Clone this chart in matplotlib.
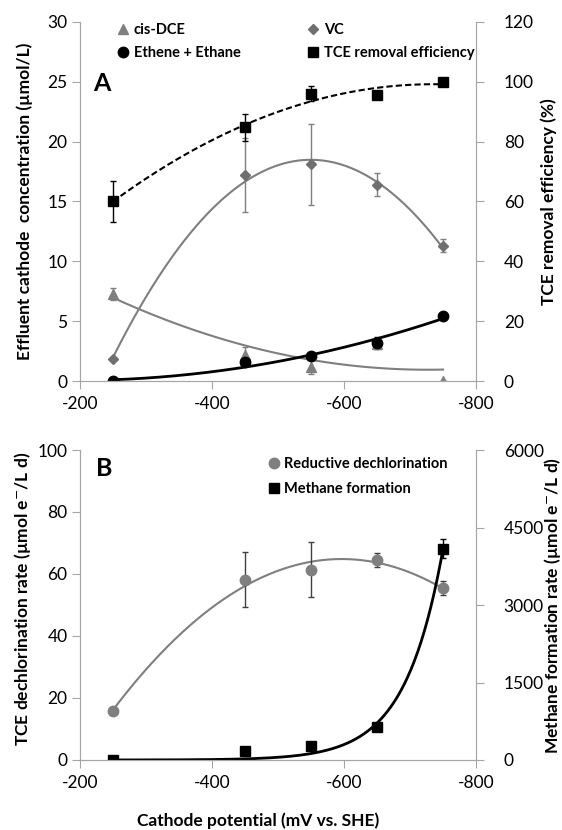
import numpy as np
import matplotlib.pyplot as plt
from matplotlib.ticker import MultipleLocator

plt.rcParams['font.family'] = ['Lato', 'DejaVu Sans']
plt.rcParams['axes.unicode_minus'] = False

potential = np.array([-250, -450, -550, -650, -750])

# panel A (umol/L, and % for removal efficiency)
cis_dce = np.array([7.25, 2.2, 1.2, 3.1, 0.0])
cis_dce_err = np.array([0.5, 0.6, 0.65, 0.0, 0.0])
vc = np.array([1.85, 17.2, 18.1, 16.4, 11.3])
vc_err = np.array([0.0, 3.1, 3.4, 0.95, 0.55])
ethene = np.array([0.0, 1.55, 2.05, 3.15, 5.45])
ethene_err = np.array([0.0, 0.1, 0.1, 0.5, 0.1])
tce_eff = np.array([60.0, 84.8, 96.0, 95.5, 100.0])
tce_eff_err = np.array([7.0, 4.6, 2.5, 1.0, 0.3])

# panel B (umol e-/L d)
dechlor = np.array([15.8, 58.2, 61.4, 64.4, 55.4])
dechlor_err = np.array([0.5, 8.8, 8.9, 2.3, 2.3])
methane = np.array([0.0, 175, 278, 647, 4090])
methane_err = np.array([0.0, 0.0, 0.0, 0.0, 180])

GRAY = '#7f7f7f'
SPINE = '#a6a6a6'
xs = np.linspace(-250, -750, 300)


def poly_trend(y, deg=2):
    return np.polyval(np.polyfit(potential, y, deg), xs)


def exp_trend(y):
    best = None
    for b in np.linspace(-0.03, -0.001, 3000):
        e = np.exp(b * potential)
        a = (y @ e) / (e @ e)
        sse = ((y - a * e) ** 2).sum()
        if best is None or sse < best[0]:
            best = (sse, a, b)
    return best[1] * np.exp(best[2] * xs)


def style(ax):
    ax.spines['top'].set_visible(False)
    for s in ['left', 'right', 'bottom']:
        ax.spines[s].set_color(SPINE)
    ax.tick_params(direction='out', length=6, color=SPINE, labelsize=12.5)
    ax.tick_params(axis='y', pad=3)
    ax.tick_params(axis='x', pad=5)


fig = plt.figure(figsize=(5.62, 8.30), dpi=100)

# ---------------- panel A
ax1 = fig.add_axes([80/562, 1 - 381/830, 396/562, 359/830])
ax2 = ax1.twinx()

ax1.plot(xs, poly_trend(cis_dce), color=GRAY, lw=1.5)
ax1.plot(xs, poly_trend(vc), color=GRAY, lw=1.5)
ax1.plot(xs, poly_trend(ethene), color='black', lw=2)
ax1.errorbar(potential, cis_dce, yerr=cis_dce_err, fmt='none', ecolor=GRAY, capsize=2.5, elinewidth=1)
ax1.errorbar(potential, vc, yerr=vc_err, fmt='none', ecolor=GRAY, capsize=2.5, elinewidth=1)
ax1.errorbar(potential, ethene, yerr=ethene_err, fmt='none', ecolor='black', capsize=2.5, elinewidth=1)
h_dce, = ax1.plot(potential, cis_dce, '^', color=GRAY, ms=7, ls='none', label='cis-DCE')
h_vc, = ax1.plot(potential, vc, 'D', color='#6f6f6f', ms=5.5, ls='none', label='VC')
h_eth, = ax1.plot(potential, ethene, 'o', color='black', ms=7.5, ls='none', label='Ethene + Ethane')

ax2.plot(xs, poly_trend(tce_eff), color='black', lw=1.5, ls=(0, (3, 1.5)))
ax2.errorbar(potential, tce_eff, yerr=tce_eff_err, fmt='none', ecolor='black', capsize=2.5, elinewidth=1)
h_tce, = ax2.plot(potential, tce_eff, 's', color='black', ms=7.5, ls='none', label='TCE removal efficiency')

ax1.set_xlim(-200, -800)
ax1.set_ylim(0, 30)
ax2.set_ylim(0, 120)
ax1.xaxis.set_major_locator(MultipleLocator(200))
ax1.yaxis.set_major_locator(MultipleLocator(5))
ax2.yaxis.set_major_locator(MultipleLocator(20))
for a in (ax1, ax2):
    style(a)
ax2.tick_params(axis='y', pad=14)

ax1.set_ylabel('Effluent cathode  concentration (µmol/L)', fontsize=12.5, fontweight='bold')
ax1.yaxis.set_label_coords(-0.119, 0.5)
ax2.set_ylabel('TCE removal efficiency (%)', fontsize=12.5, fontweight='bold')
ax2.yaxis.set_label_coords(1.162, 0.5)
ax1.text(0.033, 0.829, 'A', transform=ax1.transAxes, fontsize=18, fontweight='bold', va='center')

ax2.legend(handles=[h_dce, h_eth, h_vc, h_tce], ncol=2, loc='upper left',
           bbox_to_anchor=(0.095, 0.998), frameon=False, borderpad=0, borderaxespad=0,
           handlelength=0.8, handletextpad=0.3, columnspacing=4.6, labelspacing=0.65,
           prop={'weight': 'bold', 'size': 10.5})

# ---------------- panel B
ax3 = fig.add_axes([80/562, 1 - 760/830, 396/562, 310/830])
ax4 = ax3.twinx()

ax3.plot(xs, poly_trend(dechlor), color=GRAY, lw=1.5)
ax3.errorbar(potential, dechlor, yerr=dechlor_err, fmt='none', ecolor='#404040', capsize=2.5, elinewidth=1)
h_rd, = ax3.plot(potential, dechlor, 'o', color=GRAY, ms=7.5, ls='none', label='Reductive dechlorination')

ax4.plot(xs, exp_trend(methane), color='black', lw=2)
ax4.errorbar(potential, methane, yerr=methane_err, fmt='none', ecolor='black', capsize=2.5, elinewidth=1)
h_me, = ax4.plot(potential, methane, 's', color='black', ms=7.5, ls='none', label='Methane formation')

ax3.set_xlim(-200, -800)
ax3.set_ylim(0, 100)
ax4.set_ylim(0, 6000)
ax3.xaxis.set_major_locator(MultipleLocator(200))
ax3.yaxis.set_major_locator(MultipleLocator(20))
ax4.yaxis.set_major_locator(MultipleLocator(1500))
for a in (ax3, ax4):
    style(a)
ax4.tick_params(axis='y', pad=14)

ax3.set_ylabel('TCE dechlorination rate (µmol e$^{-}$/L d)', fontsize=12.5, fontweight='bold')
ax3.yaxis.set_label_coords(-0.119, 0.52)
ax4.set_ylabel('Methane formation rate (µmol e$^{-}$/L d)', fontsize=12.5, fontweight='bold')
ax4.yaxis.set_label_coords(1.167, 0.5)
ax3.set_xlabel('Cathode potential (mV vs. SHE)', fontsize=12.5, fontweight='bold')
ax3.xaxis.set_label_coords(0.45, -0.168)
ax3.text(0.04, 0.94, 'B', transform=ax3.transAxes, fontsize=18, fontweight='bold', va='center')

ax4.legend(handles=[h_rd, h_me], loc='upper left', bbox_to_anchor=(0.475, 0.978),
           frameon=False, borderpad=0, borderaxespad=0, handlelength=0.8,
           handletextpad=0.3, labelspacing=0.75, prop={'weight': 'bold', 'size': 10.5})

fig.savefig('out.png', dpi=100)
